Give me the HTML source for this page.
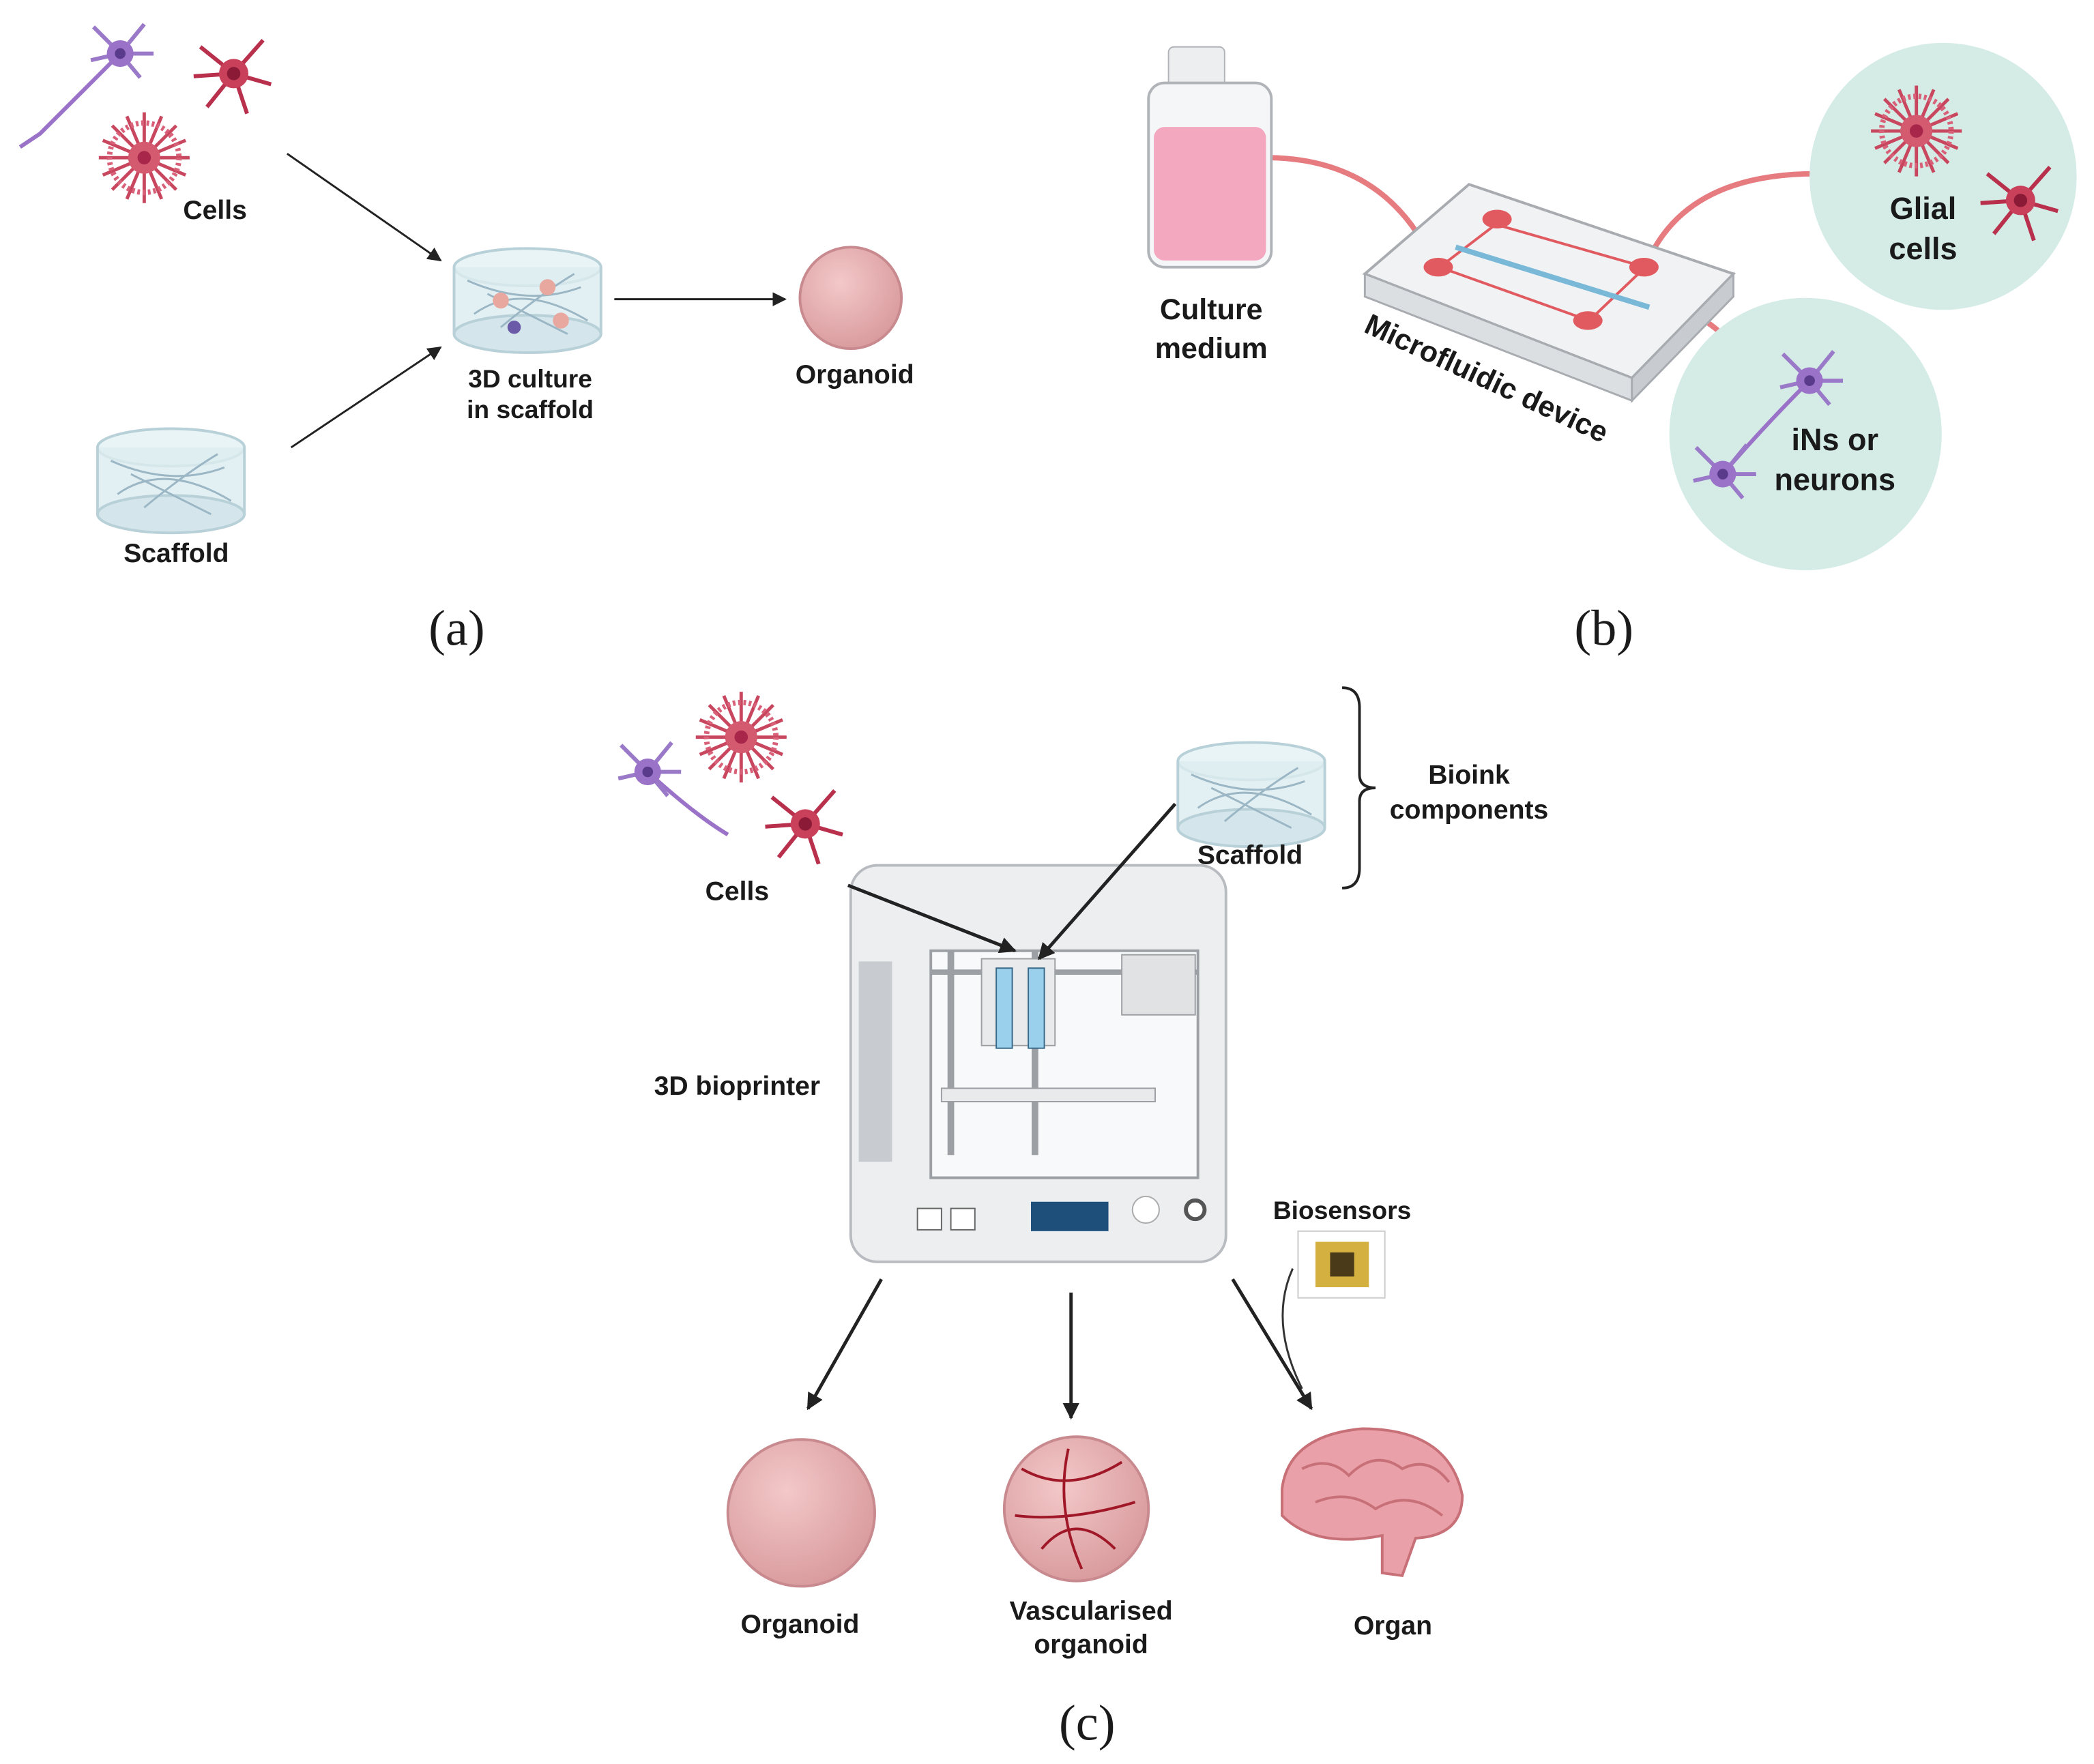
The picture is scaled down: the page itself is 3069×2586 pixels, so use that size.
<!DOCTYPE html>
<html><head><meta charset="utf-8"><style>
html,body{margin:0;padding:0;background:#fff;}
svg{display:block}
text{font-family:"Liberation Sans",sans-serif;font-weight:bold;fill:#1a1a1a;text-anchor:middle}
.lab{font-family:"Liberation Serif",serif;font-weight:normal;font-size:38px}
</style></head><body>
<svg width="3069" height="2586" viewBox="0 0 1568 1321" xmlns="http://www.w3.org/2000/svg">
<defs>
<marker id="ar" viewBox="0 0 10 10" refX="9" refY="5" markerWidth="7" markerHeight="7" orient="auto"><path d="M0,0L10,5L0,10z" fill="#222"/></marker>
<marker id="ar2" viewBox="0 0 10 10" refX="9" refY="5" markerWidth="5" markerHeight="5" orient="auto"><path d="M0,0L10,5L0,10z" fill="#222"/></marker>
<radialGradient id="org" cx="0.4" cy="0.35" r="0.7"><stop offset="0" stop-color="#f3c8c8"/><stop offset="1" stop-color="#d8999c"/></radialGradient>
<g id="astro">
<g stroke="#c8475f" stroke-width="2.5" fill="none">
<path d="M0,0L0,-34M0,0L24,-24M0,0L34,0M0,0L24,24M0,0L0,34M0,0L-24,24M0,0L-34,0M0,0L-24,-24M0,0L13,-31M0,0L31,-13M0,0L31,13M0,0L13,31M0,0L-13,31M0,0L-31,13M0,0L-31,-13M0,0L-13,-31"/>
</g>
<circle r="26" fill="none" stroke="#d86078" stroke-width="4" stroke-dasharray="2 2"/>
<circle r="12" fill="#d45a70"/><circle r="5" fill="#a8264a"/></g>
<g id="rneu"><path d="M0,0L-25,-20M0,0L22,-25M0,0L28,8M0,0L-20,25M0,0L10,30M0,0L-30,2" stroke="#b8304c" stroke-width="3" fill="none"/><circle r="11" fill="#c8405a"/><circle r="5" fill="#8a1a35"/></g>
<g id="pneu"><path d="M0,0L-20,-20M0,0L18,-22M0,0L25,0M0,0L15,18M0,0L-22,5" stroke="#9a7ac8" stroke-width="3" fill="none"/><circle r="10" fill="#9a72c8"/><circle r="4" fill="#5a3a8a"/></g>
<g id="dish"><ellipse cx="0" cy="0" rx="55" ry="14" fill="#e8f4f6" stroke="#b8d0d8" stroke-width="2"/><rect x="-55" y="0" width="110" height="50" fill="#dcecf0" opacity="0.8"/><ellipse cx="0" cy="50" rx="55" ry="14" fill="#d4e6ec" stroke="#b8d0d8" stroke-width="2"/><line x1="-55" y1="0" x2="-55" y2="50" stroke="#b8d0d8" stroke-width="2"/><line x1="55" y1="0" x2="55" y2="50" stroke="#b8d0d8" stroke-width="2"/><path d="M-45,10 Q0,30 40,15 M-40,35 Q-5,10 45,40 M-30,20 L30,50 M-20,45 Q10,20 35,5" stroke="#9bb6c4" stroke-width="1.5" fill="none"/></g>
</defs>

<!-- (a) -->
<path d="M90,40 Q60,70 30,100 L15,110" stroke="#9a72c8" stroke-width="3" fill="none"/>
<use href="#pneu" x="90" y="40"/>
<use href="#rneu" x="175" y="55"/>
<use href="#astro" x="108" y="118"/>
<text x="161" y="164" font-size="20">Cells</text>
<line x1="215" y1="115" x2="330" y2="195" stroke="#222" stroke-width="1.5" marker-end="url(#ar)"/>
<use href="#dish" x="395" y="200"/>
<circle cx="375" cy="225" r="6" fill="#e8a8a0"/><circle cx="410" cy="215" r="6" fill="#e8a8a0"/><circle cx="420" cy="240" r="6" fill="#e8a8a0"/><circle cx="385" cy="245" r="5" fill="#6a5aa8"/>
<text x="397" y="290" font-size="19">3D culture</text>
<text x="397" y="313" font-size="19">in scaffold</text>
<line x1="218" y1="335" x2="330" y2="260" stroke="#222" stroke-width="1.5" marker-end="url(#ar)"/>
<use href="#dish" x="128" y="335"/>
<text x="132" y="421" font-size="20">Scaffold</text>
<line x1="460" y1="224" x2="588" y2="224" stroke="#222" stroke-width="1.5" marker-end="url(#ar)"/>
<circle cx="637" cy="223" r="38" fill="url(#org)" stroke="#c88a8e" stroke-width="2"/>
<text x="640" y="287" font-size="20">Organoid</text>
<text class="lab" x="342" y="483">(a)</text>

<!-- (b) -->
<path d="M952,118 Q1040,120 1075,200" stroke="#e05a60" stroke-width="4" fill="none" opacity="0.8"/>
<path d="M1360,130 Q1260,130 1232,200" stroke="#e05a60" stroke-width="4" fill="none" opacity="0.8"/>
<path d="M1300,262 Q1260,210 1190,240" stroke="#e05a60" stroke-width="4" fill="none" opacity="0.8"/>
<rect x="875" y="35" width="42" height="30" rx="4" fill="#eceef0" stroke="#b0b4b8"/>
<rect x="860" y="62" width="92" height="138" rx="12" fill="#f4f6f8" stroke="#b0b4b8" stroke-width="2"/>
<rect x="864" y="95" width="84" height="100" rx="8" fill="#f4a8c0"/>
<text x="907" y="239" font-size="22">Culture</text>
<text x="907" y="268" font-size="22">medium</text>
<polygon points="1022,205 1100,138 1298,205 1222,283" fill="#f0f2f4" stroke="#a8acb0" stroke-width="2"/>
<polygon points="1022,205 1222,283 1222,300 1022,222" fill="#dcdfe2" stroke="#a8acb0" stroke-width="1.5"/>
<polygon points="1222,283 1298,205 1298,222 1222,300" fill="#c8ccd0" stroke="#a8acb0" stroke-width="1.5"/>
<path d="M1078,200 L1120,168 L1232,200 L1190,240 Z" stroke="#e05a60" stroke-width="2" fill="none"/>
<line x1="1090" y1="185" x2="1235" y2="230" stroke="#7ab8d8" stroke-width="4"/>
<ellipse cx="1077" cy="200" rx="11" ry="7" fill="#e05a60"/><ellipse cx="1121" cy="164" rx="11" ry="7" fill="#e05a60"/><ellipse cx="1231" cy="200" rx="11" ry="7" fill="#e05a60"/><ellipse cx="1189" cy="240" rx="11" ry="7" fill="#e05a60"/>
<text x="1110" y="290" font-size="22" transform="rotate(25 1110 290)">Microfluidic device</text>
<circle cx="1455" cy="132" r="100" fill="#d5ece6"/>
<use href="#astro" x="1435" y="98"/>
<use href="#rneu" x="1513" y="150"/>
<text x="1440" y="164" font-size="23">Glial</text>
<text x="1440" y="194" font-size="23">cells</text>
<circle cx="1352" cy="325" r="102" fill="#d5ece6"/>
<path d="M1355,285 Q1320,320 1290,355" stroke="#9a72c8" stroke-width="3" fill="none"/>
<use href="#pneu" x="1355" y="285"/>
<use href="#pneu" x="1290" y="355"/>
<text x="1374" y="337" font-size="23">iNs or</text>
<text x="1374" y="367" font-size="23">neurons</text>
<text class="lab" x="1201" y="483">(b)</text>

<!-- (c) -->
<path d="M485,578 Q520,610 545,625" stroke="#9a72c8" stroke-width="3" fill="none"/>
<use href="#pneu" x="485" y="578"/>
<use href="#astro" x="555" y="552"/>
<use href="#rneu" x="603" y="617"/>
<text x="552" y="674" font-size="20">Cells</text>
<use href="#dish" x="937" y="570"/>
<text x="936" y="647" font-size="20">Scaffold</text>
<path d="M1005,515 Q1018,515 1018,530 L1018,580 Q1018,590 1030,590 Q1018,590 1018,600 L1018,650 Q1018,665 1005,665" stroke="#222" stroke-width="2" fill="none"/>
<text x="1100" y="587" font-size="20">Bioink</text>
<text x="1100" y="613" font-size="20">components</text>
<rect x="637" y="648" width="281" height="297" rx="20" fill="#eceef0" stroke="#b8bcc0" stroke-width="2"/>
<rect x="697" y="712" width="200" height="170" fill="#f8f9fa" stroke="#9ca0a4" stroke-width="2"/>
<rect x="643" y="720" width="25" height="150" fill="#c8ccd0"/>
<line x1="712" y1="712" x2="712" y2="865" stroke="#9ca0a4" stroke-width="5"/>
<line x1="775" y1="712" x2="775" y2="865" stroke="#9ca0a4" stroke-width="5"/>
<line x1="697" y1="728" x2="897" y2="728" stroke="#9ca0a4" stroke-width="4"/>
<rect x="705" y="815" width="160" height="10" fill="#e8eaec" stroke="#9ca0a4"/>
<rect x="735" y="718" width="55" height="65" fill="#e8eaec" stroke="#9ca0a4"/>
<rect x="746" y="725" width="12" height="60" fill="#9ad0ec" stroke="#3a6a8a"/><rect x="770" y="725" width="12" height="60" fill="#9ad0ec" stroke="#3a6a8a"/>
<rect x="840" y="715" width="55" height="45" fill="#e0e2e4" stroke="#9ca0a4"/>
<rect x="772" y="900" width="58" height="22" fill="#1e4f7a"/>
<circle cx="858" cy="906" r="10" fill="#fff" stroke="#aaa"/><circle cx="895" cy="906" r="7" fill="#fff" stroke="#555" stroke-width="3"/>
<rect x="687" y="905" width="18" height="16" fill="#fff" stroke="#666"/><rect x="712" y="905" width="18" height="16" fill="#fff" stroke="#666"/>
<text x="552" y="820" font-size="20">3D bioprinter</text>
<line x1="635" y1="663" x2="760" y2="712" stroke="#222" stroke-width="2.5" marker-end="url(#ar2)"/>
<line x1="880" y1="602" x2="778" y2="718" stroke="#222" stroke-width="2.5" marker-end="url(#ar2)"/>
<text x="1005" y="913" font-size="19">Biosensors</text>
<rect x="972" y="922" width="65" height="50" fill="#fff" stroke="#ccc"/>
<rect x="985" y="930" width="40" height="34" fill="#d4b040"/><rect x="996" y="938" width="18" height="18" fill="#4a3a1a"/>
<path d="M968,950 Q950,990 975,1040" stroke="#333" stroke-width="1.5" fill="none"/>
<line x1="660" y1="958" x2="605" y2="1055" stroke="#222" stroke-width="2.5" marker-end="url(#ar2)"/>
<line x1="802" y1="968" x2="802" y2="1062" stroke="#222" stroke-width="2.5" marker-end="url(#ar2)"/>
<line x1="923" y1="958" x2="982" y2="1055" stroke="#222" stroke-width="2.5" marker-end="url(#ar2)"/>
<circle cx="600" cy="1133" r="55" fill="url(#org)" stroke="#c88a8e" stroke-width="2"/>
<text x="599" y="1223" font-size="20">Organoid</text>
<circle cx="806" cy="1130" r="54" fill="url(#org)" stroke="#c88a8e" stroke-width="2"/>
<path d="M765,1100 Q800,1120 840,1095 M780,1160 Q805,1130 835,1160 M800,1085 Q790,1130 810,1175 M760,1135 Q800,1140 850,1125" stroke="#a01828" stroke-width="2" fill="none"/>
<text x="817" y="1213" font-size="20">Vascularised</text>
<text x="817" y="1238" font-size="20">organoid</text>
<path d="M960,1115 Q965,1075 1020,1070 Q1085,1070 1095,1120 Q1095,1150 1060,1152 L1050,1180 L1035,1178 L1035,1150 Q985,1160 960,1135 Z" fill="#eaa0a8" stroke="#c87078" stroke-width="2"/>
<path d="M975,1100 Q995,1090 1010,1105 Q1030,1085 1050,1100 Q1070,1090 1085,1110 M985,1125 Q1010,1115 1030,1130 Q1055,1115 1080,1135" stroke="#c87078" stroke-width="2" fill="none"/>
<text x="1043" y="1224" font-size="20">Organ</text>
<text class="lab" x="814" y="1303">(c)</text>
</svg>
</body></html>
